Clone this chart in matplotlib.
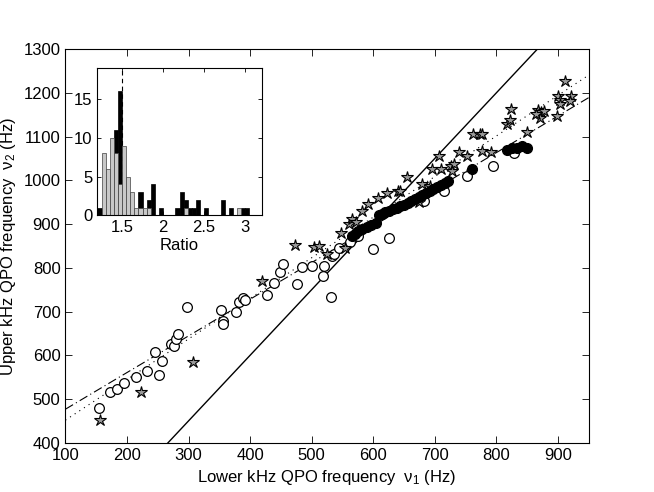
import matplotlib
matplotlib.use("Agg")
import matplotlib.pyplot as plt
import numpy as np

plt.rcParams['font.family'] = ['Liberation Sans', 'DejaVu Sans']
plt.rcParams['mathtext.fontset'] = 'custom'
plt.rcParams['mathtext.rm'] = 'Liberation Sans'
plt.rcParams['mathtext.it'] = 'Liberation Sans'

# ---- data ----
open_x = [154, 173, 184, 195, 214, 233, 252, 257, 246, 271, 277, 280, 283, 297, 352, 356, 356, 377,
          382, 389, 391, 427, 439, 449, 453, 477, 485, 501, 519, 520, 533, 536, 532, 545, 563, 575,
          600, 625, 682, 715, 753, 795, 829]
open_y = [480, 517, 523, 536, 551, 565, 555, 588, 608, 627, 621, 638, 648, 710, 703, 679, 671, 699,
          722, 730, 727, 739, 766, 790, 809, 762, 802, 804, 781, 805, 828, 832, 733, 845, 860, 872,
          842, 868, 954, 975, 1011, 1033, 1062]

filled_x = [565, 570, 576, 582, 590, 597, 604, 610, 615, 620, 626, 632, 638, 644, 650, 656, 662,
            668, 674, 680, 686, 692, 698, 704, 710, 716, 722, 761, 818, 826, 834, 842, 850]
filled_y = [872, 878, 884, 889, 893, 898, 903, 921, 924, 927, 930, 934, 938, 941, 944, 948, 952,
            957, 962, 967, 972, 976, 980, 984, 989, 993, 998, 1026, 1070, 1074, 1075, 1079, 1075]

star_x = [157, 223, 308, 419, 473, 504, 512, 525, 555, 548, 560, 566, 572, 582, 592, 608, 622,
          640, 644, 655, 674, 680, 693, 696, 707, 710, 726, 731, 728, 739, 753, 777, 791, 763,
          773, 777, 817, 822, 824, 850, 867, 872, 877, 871, 865, 900, 903, 904, 921, 920, 898, 911]
star_y = [452, 517, 585, 769, 853, 847, 849, 831, 845, 880, 900, 912, 905, 930, 945, 960, 972,
          975, 976, 1008, 950, 992, 988, 1026, 1056, 1026, 1033, 1037, 1022, 1064, 1056, 1067, 1064,
          1106, 1106, 1107, 1130, 1137, 1163, 1111, 1160, 1156, 1158, 1142, 1151, 1193, 1183, 1174,
          1193, 1182, 1147, 1227]

# line coefficients (slope, intercept)
solid_line = (1.5, 0.0)
dashdot_line = (0.838, 393.0)
dotted_line = (0.928, 359.0)

# histogram (bin width 0.05 from 1.2)
bin_left = np.round(np.arange(1.2, 3.2, 0.05), 3)
black_counts = [1, 0, 0, 0, 11, 16, 0, 0, 0, 0, 3, 0, 2, 4, 0, 1, 0, 0, 0, 1,
                3, 2, 1, 1, 2, 0, 1, 0, 0, 0, 2, 0, 1, 0, 0, 1, 1, 0, 0, 0]
gray_counts = [0, 8, 6, 10, 8, 4, 9, 5, 3, 1, 1, 1, 1, 0, 0, 0, 0, 0, 0, 0,
               0, 1, 0, 0, 0, 0, 0, 0, 0, 0, 0, 0, 0, 0, 1, 0, 0, 0, 0, 0]

fig = plt.figure(figsize=(6.54, 4.92), dpi=100)
ax = fig.add_axes([0.1, 0.1, 0.8, 0.8])

xl = np.array([100, 950])
ax.plot(xl, solid_line[0] * xl + solid_line[1], '-', color='black', lw=1.0, zorder=1)
ax.plot(xl, dashdot_line[0] * xl + dashdot_line[1], color='black', lw=0.8,
        linestyle=(0, (8, 3, 1, 3)), zorder=1)
ax.plot(xl, dotted_line[0] * xl + dotted_line[1], color='black', lw=0.8,
        linestyle=(0, (1, 4)), zorder=1)

ax.plot(open_x, open_y, 'o', mfc='white', mec='black', ms=7, mew=0.9, ls='none', zorder=2)
ax.plot(star_x, star_y, '*', mfc='#999999', mec='black', ms=9, mew=0.8, ls='none', zorder=3)
ax.plot(filled_x, filled_y, 'o', mfc='black', mec='black', ms=7, ls='none', zorder=4)

ax.set_xlim(100, 950)
ax.set_ylim(400, 1300)
ax.set_xticks(range(100, 901, 100))
ax.set_yticks(range(400, 1301, 100))
ax.tick_params(direction='in', top=True, right=True, labelsize=12, length=5, width=0.6)
for s in ax.spines.values():
    s.set_linewidth(0.8)
ax.set_xlabel(r'Lower kHz QPO frequency  $\nu_1$ (Hz)', fontsize=12)
ax.set_ylabel(r'Upper kHz QPO frequency  $\nu_2$ (Hz)', fontsize=12)

# inset
ins = fig.add_axes([0.149, 0.562, 0.251, 0.30])
ins.axvline(1.5, color='black', lw=0.8, ls=(0, (4, 3)), zorder=0)
ins.bar(bin_left, black_counts, width=0.05, align='edge', color='black', edgecolor='black', lw=0.5, zorder=1)
ins.bar(bin_left, gray_counts, width=0.05, align='edge', color='#c8c8c8', edgecolor='#404040', lw=0.5, zorder=2)
ins.set_xlim(1.2, 3.2)
ins.set_ylim(0, 19)
ins.set_xticks([1.5, 2, 2.5, 3])
ins.set_xticklabels(['1.5', '2', '2.5', '3'])
ins.set_yticks([0, 5, 10, 15])
ins.tick_params(direction='in', top=True, right=True, labelsize=12, length=3, width=0.6)
ins.set_xlabel('Ratio', fontsize=12, labelpad=2)

fig.savefig('out.png', dpi=100)
